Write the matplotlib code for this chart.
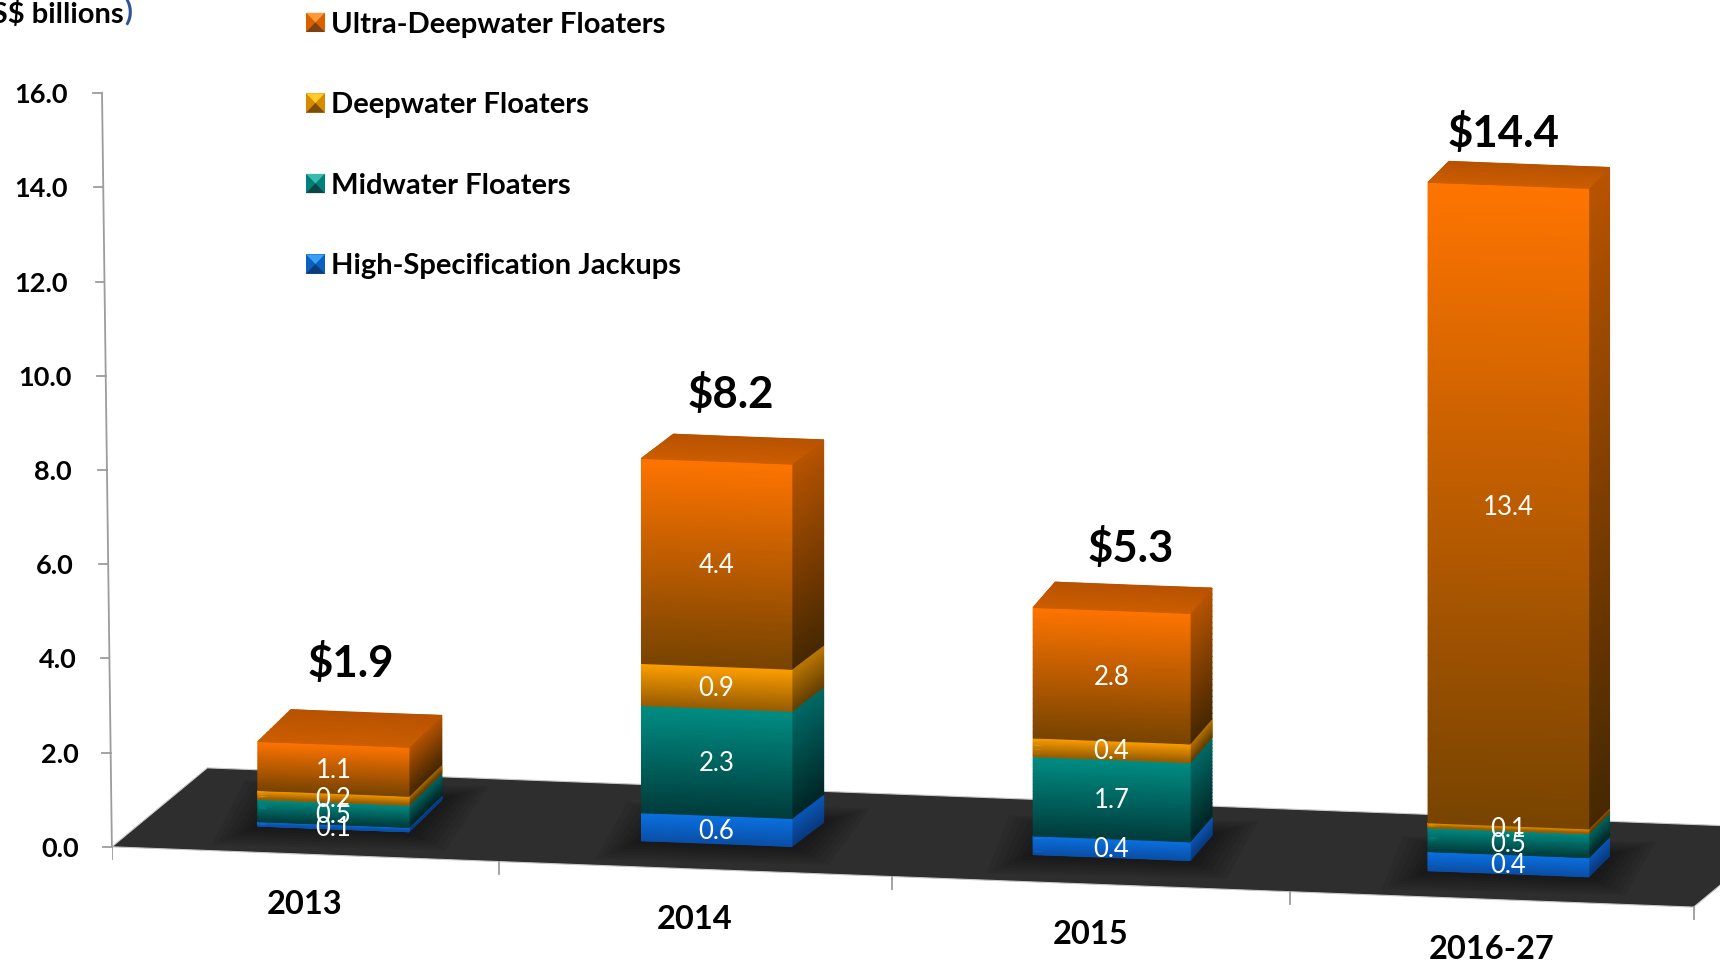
import numpy as np
import matplotlib
matplotlib.use("Agg")
import matplotlib.pyplot as plt
from matplotlib.colors import LinearSegmentedColormap
from matplotlib.legend_handler import HandlerBase
from matplotlib.patches import Patch, Polygon
from matplotlib.transforms import ScaledTranslation

# ---------- data ----------
categories = ["2013", "2014", "2015", "2016-27"]
jackups = [0.1, 0.6, 0.4, 0.4]
midwater = [0.5, 2.3, 1.7, 0.5]
deepwater = [0.2, 0.9, 0.4, 0.1]
ultra = [1.1, 4.4, 2.8, 13.4]
totals = [1.9, 8.2, 5.3, 14.4]
series_names = ["High-Specification Jackups", "Midwater Floaters",
                "Deepwater Floaters", "Ultra-Deepwater Floaters"]
y_ticks = [0, 2, 4, 6, 8, 10, 12, 14, 16]

# ---------- styles / layout (reference pixels at 1568 wide) ----------
plt.rcParams["font.family"] = ["Lato", "DejaVu Sans"]
K = 1720 / 1568
W, H = 1568, 963 / K
X0, Y0 = 102, 772          # origin of the plot
UX, UY = 353, 687 / 16     # px per category, px per value
PERSP = 0.00708            # widening of categories with distance
SLOPE = 0.0381             # tilt of the floor's front edge
FLOOR_DEPTH = (87, -72)
BAR_POS = [0.572, 0.554, 0.552, 0.541]
BAR_W = [0.39, 0.383, 0.394, 0.398]
BAR_LIFT = [24, 24, 25, 24]
BAR_GAIN = [0.945, 0.99, 0.99, 1.015]
BAR_DEPTH = [(30, -29), (29, -22), (20, -23), (19, -19)]
TOTAL_LIFT = [74, 61, 57, 48]
TOTAL_DX = [16, 13, 17, -4]
FRONT = [("#0A72E2", "#0A4FA8"), ("#008E84", "#003C3C"),
         ("#FFA000", "#985C00"), ("#FF7400", "#784400")]
SIDE = [("#0A58B8", "#083A80"), ("#006A66", "#002626"),
        ("#BE7800", "#664000"), ("#B85400", "#462800")]
TOP_FACE = ("#B85200", "#CC5E00")
LEGEND_COLORS = [("#39A0F5", "#0A5FC0", "#0E3C78"), ("#3CB8AE", "#00807A", "#0B4644"),
                 ("#FFCB2E", "#D98A00", "#7A4E08"), ("#FF9A3C", "#D95F00", "#7A4210")]
AXIS_GRAY = "#9C9C9C"


def boundary(t):
    return X0 + UX * (t + PERSP * t * (t - 1))


def edge(x):
    return Y0 + SLOPE * (x - X0)


def D(x, y):
    """reference pixel -> axes data"""
    return (x - X0) / UX, (Y0 - y) / UY


fig = plt.figure(figsize=(17.2, 9.63), dpi=100, facecolor="white")
ax = fig.add_axes([X0 / W, 0, 1 - X0 / W, 1])
ax.set_xlim(0, (W - X0) / UX)
ax.set_ylim((Y0 - H) / UY, Y0 / UY)
ax.autoscale(False)
ax.patch.set_alpha(0)
for s in ax.spines.values():
    s.set_visible(False)


def quad_gradient(tl, tr, bl, br, colors, z):
    n = 24
    f = np.linspace(0, 1, n)
    xs = np.column_stack([tl[0] + (bl[0] - tl[0]) * f, tr[0] + (br[0] - tr[0]) * f])
    ys = np.column_stack([tl[1] + (bl[1] - tl[1]) * f, tr[1] + (br[1] - tr[1]) * f])
    dx, dy = D(xs, ys)
    c = np.column_stack([f, f])
    cm = LinearSegmentedColormap.from_list("g", colors)
    ax.pcolormesh(dx, dy, c, cmap=cm, shading="gouraud", vmin=0, vmax=1, zorder=z)


def poly(points, z, **kw):
    ax.add_patch(Polygon([D(*p) for p in points], closed=True, zorder=z, **kw))


# ---------- floor ----------
fx0, fx1 = boundary(0), boundary(4)
fd, fh = FLOOR_DEPTH
poly([(fx0, edge(fx0)), (fx1, edge(fx1)), (fx1 + fd, edge(fx1) + fh), (fx0 + fd, edge(fx0) + fh)],
     1, facecolor="#2E2E2E", edgecolor="#C8C8C8", linewidth=0.8)

# ---------- axis lines and ticks ----------
top_x = X0 - 9
ax.plot(*zip(D(X0, Y0), D(top_x, Y0 - 16 * UY)), color=AXIS_GRAY, lw=1.3, clip_on=False, zorder=2)
for v in y_ticks:
    x = X0 - 9 * v / 16
    y = Y0 - v * UY
    ax.plot(*zip(D(x, y), D(x - 8, y)), color=AXIS_GRAY, lw=1.3, clip_on=False, zorder=2)
for t in range(5):
    x = boundary(t)
    ax.plot(*zip(D(x, edge(x)), D(x, edge(x) + 11)), color=AXIS_GRAY, lw=1.3, zorder=2)

ax.set_yticks(y_ticks)
ax.set_yticklabels([f"{v:.1f}" for v in y_ticks], fontsize=19.5, fontweight="bold", color="black")
ax.set_xticks([i + 0.5 for i in range(len(categories))])
ax.set_xticklabels(categories, fontsize=23.5, fontweight="bold", color="black")
ax.tick_params(length=0, pad=0)
for lab, right in zip(ax.get_yticklabels(), [72, 72, 70, 67, 65, 65, 62, 62, 62]):
    off = ScaledTranslation((right - X0) * K / 100, 0, fig.dpi_scale_trans)
    lab.set_transform(lab.get_transform() + off)
for i, lab in enumerate(ax.get_xticklabels()):
    x = boundary(i + 0.5)
    lab.set_va("center")
    off = ScaledTranslation((x - (X0 + UX * (i + 0.5))) * K / 100,
                            -(edge(x) + 46 - H) * K / 100, fig.dpi_scale_trans)
    lab.set_transform(lab.get_transform() + off)

# ---------- bars ----------
stacks = [jackups, midwater, deepwater, ultra]
for i in range(len(categories)):
    b0, b1 = boundary(i), boundary(i + 1)
    xc = b0 + BAR_POS[i] * (b1 - b0)
    hw = BAR_W[i] * (b1 - b0) / 2
    xl, xr = xc - hw, xc + hw
    ddx, ddy = BAR_DEPTH[i]
    yl0 = edge(xl) - BAR_LIFT[i]
    yr0 = edge(xr) - BAR_LIFT[i]
    scale = UY * BAR_GAIN[i]
    # soft shadow on the floor
    for grow in range(6, 48, 6):
        poly([(xl - grow, yl0 + grow * 0.4), (xr + grow * 0.8, yr0 + grow * 0.4),
              (xr + ddx + grow, yr0 + ddy - grow * 0.3), (xl + ddx - grow, yl0 + ddy - grow * 0.3)],
             2, facecolor="black", edgecolor="none", alpha=0.07)
    base = 0.0
    for sidx, vals in enumerate(stacks):
        v = vals[i]
        top = base + v
        ylb, yrb = yl0 - base * scale, yr0 - base * scale
        ylt, yrt = yl0 - top * scale, yr0 - top * scale
        quad_gradient((xr, yrt), (xr + ddx, yrt + ddy), (xr, yrb), (xr + ddx, yrb + ddy), SIDE[sidx], 3)
        quad_gradient((xl, ylt), (xr, yrt), (xl, ylb), (xr, yrb), FRONT[sidx], 4)
        ym = (ylb + yrb + ylt + yrt) / 4
        tx, ty = D(xc, ym + 1.5)
        ax.text(tx, ty, f"{v:.1f}", color="white", fontsize=18.5, ha="center", va="center", zorder=10)
        base = top
    quad_gradient((xl + ddx, ylt + ddy), (xr + ddx, yrt + ddy), (xl, ylt), (xr, yrt), TOP_FACE, 5)
    tx, ty = D(xc + TOTAL_DX[i], (ylt + yrt) / 2 - TOTAL_LIFT[i])
    ax.text(tx, ty, f"${totals[i]:.1f}", color="black", fontsize=31.5, fontweight="bold",
            ha="center", va="center", zorder=11)


# ---------- legend ----------
class BevelHandler(HandlerBase):
    def create_artists(self, legend, handle, xd, yd, w, h, fs, trans):
        lt, mid, dk = handle.bevel
        x0, y0, x1, y1 = -xd, -yd, -xd + w, -yd + h
        cx, cy = (x0 + x1) / 2, (y0 + y1) / 2
        shapes = [([(x0, y0), (x1, y0), (x1, y1), (x0, y1)], mid),
                  ([(x0, y1), (x1, y1), (cx, cy)], lt),
                  ([(x0, y0), (x1, y0), (cx, cy)], dk)]
        return [Polygon(p, closed=True, facecolor=c, edgecolor="none", transform=trans)
                for p, c in shapes]


handles = []
for name, cols in zip(series_names, LEGEND_COLORS):
    p = Patch(label=name)
    p.bevel = cols
    handles.append(p)
ax.legend(handles[::-1], series_names[::-1],
          handler_map={Patch: BevelHandler()}, loc="upper left",
          bbox_to_anchor=(268.4 / W, 1 - 0 / H), bbox_transform=fig.transFigure,
          frameon=False, prop={"weight": "bold", "size": 21}, labelcolor="black",
          handlelength=0.64, handleheight=0.64, handletextpad=0.22, labelspacing=1.87,
          borderpad=0.4, borderaxespad=0)

# ---------- unit caption, cropped by the left edge as in the source ----------
fig.text(113 / W, 1 - 12 / H, "(US$ billions", fontsize=21, fontweight="bold", color="black",
         ha="right", va="center")
fig.text(113 / W, 1 - 12 / H, ")", fontsize=21, fontweight="bold", color="#2F5597",
         ha="left", va="center")

fig.savefig("out.png", dpi=100)
